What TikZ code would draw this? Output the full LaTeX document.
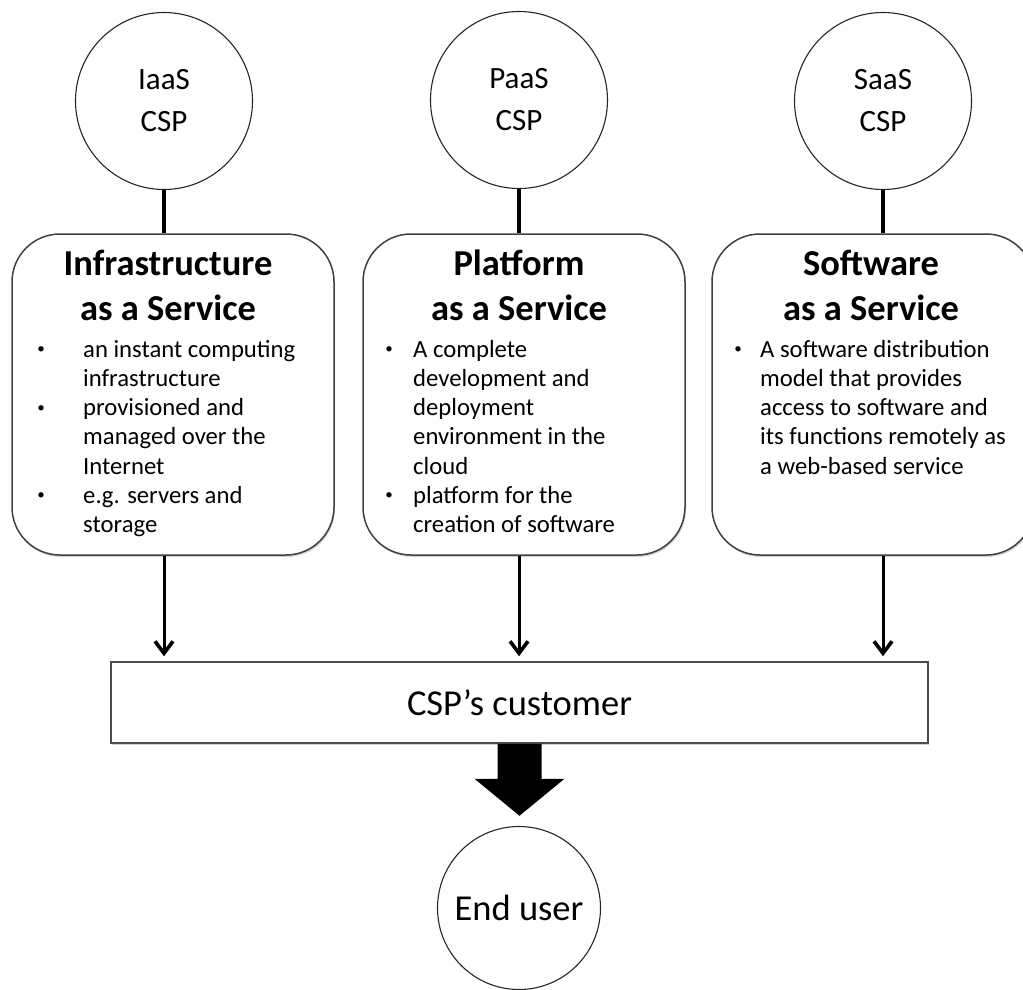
\documentclass[tikz,border=0pt]{standalone}
\usepackage{fontspec}
\setmainfont{Carlito}
\usetikzlibrary{shadows,arrows.meta,calc}

\tikzset{
  x=1pt, y=-1pt,
  provider/.style={circle, draw=black!85, line width=1.1pt, fill=white,
    minimum size=177pt, inner sep=0pt, align=center,
    font=\fontsize{31}{42}\selectfont},
  servicebox/.style={draw=black!75, line width=1.5pt, fill=white,
    rounded corners=48pt, minimum width=322pt, minimum height=321pt,
    inner sep=0pt,
    drop shadow={opacity=0.35, shadow xshift=1pt, shadow yshift=-2pt}},
  titleline/.style={anchor=base, inner sep=0pt,
    font=\fontsize{36.5}{45}\selectfont\bfseries},
  bodytext/.style={anchor=base west, inner sep=0pt,
    font=\fontsize{24.7}{29.3}\selectfont},
  bul/.style={anchor=center, inner sep=0pt,
    font=\fontsize{15}{15}\selectfont},
  link/.style={line width=3.2pt, black},
  feed/.style={line width=3pt, black, shorten >=5pt,
    -{Straight Barb[length=12pt,width=18pt,line width=3.6pt]}},
  customerbox/.style={draw=black!70, line width=1.5pt, fill=white,
    minimum width=817pt, minimum height=81pt, inner sep=0pt,
    font=\fontsize{36.5}{44}\selectfont,
    drop shadow={opacity=0.35, shadow xshift=1pt, shadow yshift=-2pt}},
  enduser/.style={circle, draw=black!85, line width=1.1pt, fill=white,
    minimum size=163pt, inner sep=0pt,
    font=\fontsize{36.5}{44}\selectfont},
}

\newcommand\bodylines[4]{%
  \foreach \t [count=\i from 0] in {#4}
    \node[bodytext] (#1\i) at (#2, #3+29.3*\i) {\t};%
}

\begin{document}
\begin{tikzpicture}
\useasboundingbox (0,0) rectangle (1023,990);

% the three service providers
\node[provider] (icsp) at (164,101) {IaaS\\CSP};
\node[provider] (pcsp) at (519,100) {PaaS\\CSP};
\node[provider] (scsp) at (883,101) {SaaS\\CSP};

% service model boxes
\node[servicebox] (ibox) at (173,394.5) {};
\node[servicebox] (pbox) at (524,394.5) {};
\node[servicebox] (sbox) at (873,394.5) {};

% links from providers to their service models
\draw[link] (icsp.south) -- (icsp.south |- ibox.north);
\draw[link] (pcsp.south) -- (pcsp.south |- pbox.north);
\draw[link] (scsp.south) -- (scsp.south |- sbox.north);

% titles
\node[titleline] (it1) at (168,275) {Infrastructure};
\node[titleline] (it2) at (168,320) {as a Service};
\node[titleline] (pt1) at (519,275) {Platform};
\node[titleline] (pt2) at (519,320) {as a Service};
\node[titleline] (st1) at (871,275) {Software};
\node[titleline] (st2) at (871,320) {as a Service};

% IaaS description
\bodylines{ia}{83}{357}{an instant computing, infrastructure, provisioned and,
  managed over the, Internet, e.g. servers and, storage}
\node[bul] (iba) at (41,350) {•};
\node[bul] (ibb) at (41,408.6) {•};
\node[bul] (ibc) at (41,496.5) {•};

% PaaS description
\bodylines{pa}{413}{357}{A complete, development and, deployment,
  environment in the, cloud, platform for the, creation of software}
\node[bul] (pba) at (389,350) {•};
\node[bul] (pbb) at (389,496.5) {•};

% SaaS description
\bodylines{sa}{760}{357}{A software distribution, model that provides,
  access to software and, its functions remotely as, a web-based service}
\node[bul] (sba) at (738,350) {•};

% the customer of the providers
\node[customerbox] (cust) at (519.5,702.5) {CSP’s customer};

\draw[feed] (icsp.south |- ibox.south) -- (icsp.south |- cust.north);
\draw[feed] (pcsp.south |- pbox.south) -- (pcsp.south |- cust.north);
\draw[feed] (scsp.south |- sbox.south) -- (scsp.south |- cust.north);

% the end user
\node[enduser] (user) at (519,908) {End user};

% bold arrow from customer to end user
\fill[black] ($(cust.south)+(-22,0)$) -- ($(cust.south)+(22,0)$)
  -- ($(cust.south)+(22,35)$) -- ($(cust.south)+(45,35)$)
  -- ($(cust.south)+(0,72)$) -- ($(cust.south)+(-45,35)$)
  -- ($(cust.south)+(-22,35)$) -- cycle;
\end{tikzpicture}
\end{document}
